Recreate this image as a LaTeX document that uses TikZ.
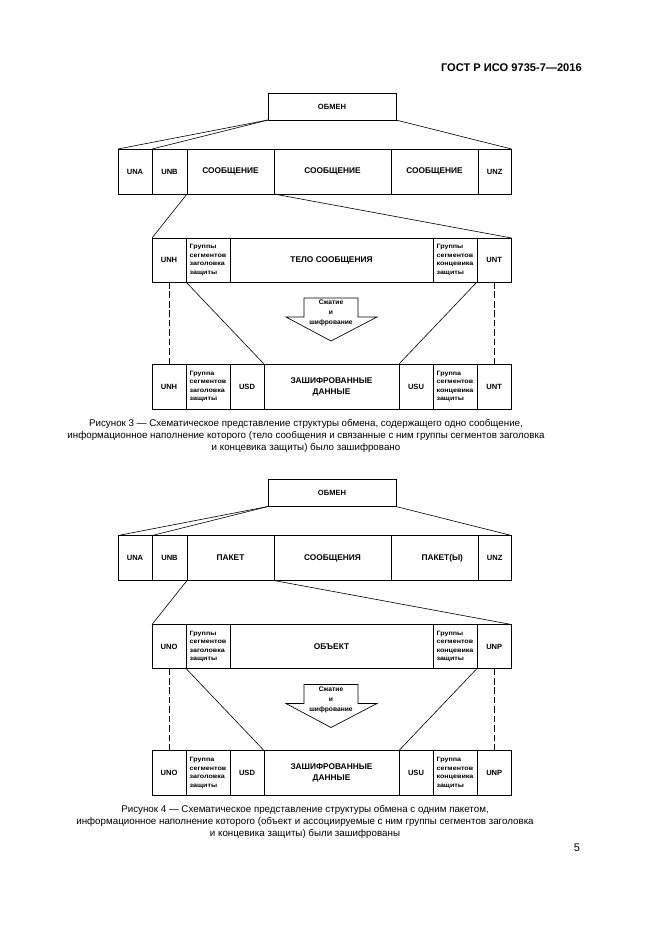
\documentclass[tikz,border=0pt]{standalone}
\usepackage{fontspec}
\setmainfont{Liberation Sans}
\newfontfamily\widesans[FakeStretch=1.15]{Liberation Sans}
\newcommand\pxu{0.9006pt}
\tikzset{
  cellbox/.style={draw, line width=0.75pt, inner sep=0pt, outer sep=0pt,
    font=\fontsize{7.5}{10}\selectfont\bfseries, align=center},
  shortlbl/.style={font=\fontsize{6.8}{9}\selectfont\bfseries},
  smalltxt/.style={font=\widesans\fontsize{5.6}{7.6}\selectfont\bfseries, align=left},
  conn/.style={line width=0.55pt},
  dashconn/.style={line width=0.55pt, dash pattern=on 6pt off 2.5pt},
  arrowshape/.style={draw, line width=0.6pt},
  arrowtxt/.style={font=\fontsize{6}{9}\selectfont\bfseries, align=center, inner sep=0pt},
  caption/.style={font=\fontsize{8.8}{10.8}\selectfont, align=center, inner sep=0pt},
}
\newcommand\cell[7][]{\node[cellbox,#1, minimum width={(#5-#3)*\pxu}, minimum height={(#6-#4)*\pxu}] (#2) at ({(#3+#5)/2},{(#4+#6)/2}) {#7};}
\newcommand\onefig[7]{%
  % exchange box
  \cell[shortlbl]{#1obmen}{268}{93}{396}{120}{ОБМЕН}
  % row 1
  \cell[shortlbl]{#1una}{118}{149}{152}{194}{UNA}
  \cell[shortlbl]{#1unb}{152}{149}{187}{194}{UNB}
  \cell{#1ca}{187}{149}{274}{194}{#2}
  \cell{#1cb}{274}{149}{391}{194}{#3}
  \cell{#1cc}{391}{149}{478}{194}{#4}
  \cell[shortlbl]{#1unz}{478}{149}{511.5}{194}{UNZ}
  % row 2
  \cell[shortlbl]{#1la}{152}{238}{186}{282}{#5}
  \cell[smalltxt]{#1gha}{186}{238}{230}{282}{Группы\\сегментов\\заголовка\\защиты}
  \cell{#1mid}{230}{238}{433}{282}{#6}
  \cell[smalltxt]{#1gta}{433}{238}{477}{282}{Группы\\сегментов\\концевика\\защиты}
  \cell[shortlbl]{#1ra}{477}{238}{511.5}{282}{#7}
  % row 3
  \cell[shortlbl]{#1lb}{152}{364}{186}{409}{#5}
  \cell[smalltxt]{#1ghb}{186}{364}{230}{409}{Группа\\сегментов\\заголовка\\защиты}
  \cell[shortlbl]{#1usd}{230}{364}{264}{409}{USD}
  \cell{#1data}{264}{364}{399}{409}{ЗАШИФРОВАННЫЕ\\ДАННЫЕ}
  \cell[shortlbl]{#1usu}{399}{364}{433}{409}{USU}
  \cell[smalltxt]{#1gtb}{433}{364}{477}{409}{Группа\\сегментов\\концевика\\защиты}
  \cell[shortlbl]{#1rb}{477}{364}{511.5}{409}{#7}
  % connectors
  \draw[conn] (#1obmen.south west) -- (#1una.north west);
  \draw[conn] (#1obmen.south west) -- (#1unb.north west);
  \draw[conn] (#1obmen.south east) -- (#1unz.north east);
  \draw[conn] (#1ca.south west) -- (#1la.north west);
  \draw[conn] (#1cb.south west) -- (#1ra.north east);
  \draw[conn] (#1gha.south west) -- (#1data.north west);
  \draw[conn] (#1gta.south east) -- (#1usu.north west);
  \draw[dashconn] (#1la.south) -- (#1lb.north);
  \draw[dashconn] (#1ra.south) -- (#1rb.north);
  % block arrow
  \draw[arrowshape] (304,298) -- (358,298) -- (358,317) -- (377,317) -- (331,341)
     -- (286,317) -- (304,317) -- cycle;
  \node[arrowtxt] (#1arr) at (331,313) {Сжатие\\и\\шифрование};
}
\begin{document}
\begin{tikzpicture}[x=\pxu, y=-\pxu]
\useasboundingbox (0,0) rectangle (661,935);
\node[font=\fontsize{10}{12}\selectfont\bfseries, anchor=east, inner sep=0pt] (hdr) at (582,68) {ГОСТ Р ИСО 9735-7—2016};

\onefig{a}{СООБЩЕНИЕ}{СООБЩЕНИЕ}{СООБЩЕНИЕ}{UNH}{ТЕЛО СООБЩЕНИЯ}{UNT}
\node[caption] (cap3) at (306,436) {Рисунок 3 — Схематическое представление структуры обмена, содержащего одно сообщение,\\информационное наполнение которого (тело сообщения и связанные с ним группы сегментов заголовка\\и концевика защиты) было зашифровано};

\begin{scope}[shift={(0,386.5)}]
\onefig{b}{ПАКЕТ}{СООБЩЕНИЯ}{\hspace*{14pt}ПАКЕТ(Ы)}{UNO}{ОБЪЕКТ}{UNP}
\node[caption] (cap4) at (305,435) {Рисунок 4 — Схематическое представление структуры обмена с одним пакетом,\\информационное наполнение которого (объект и ассоциируемые с ним группы сегментов заголовка\\и концевика защиты) были зашифрованы};
\end{scope}

\node[font=\fontsize{10}{12}\selectfont, inner sep=0pt] (pg) at (577,848) {5};
\end{tikzpicture}
\end{document}
